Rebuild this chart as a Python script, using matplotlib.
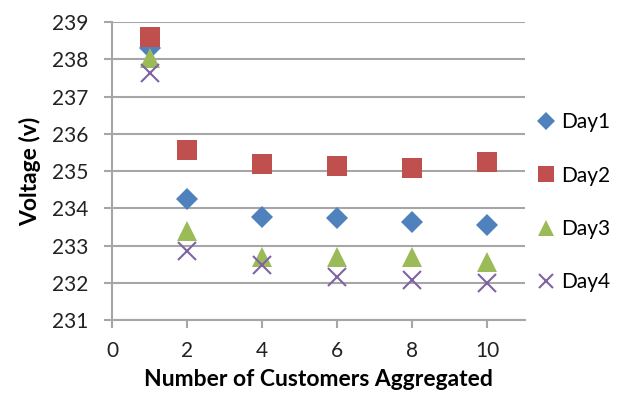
import matplotlib
matplotlib.use("Agg")
import matplotlib.pyplot as plt

customers = [1, 2, 4, 6, 8, 10]
day1 = [238.30, 234.25, 233.76, 233.73, 233.62, 233.55]
day2 = [238.61, 235.57, 235.18, 235.15, 235.08, 235.25]
day3 = [238.03, 233.40, 232.70, 232.68, 232.68, 232.55]
day4 = [237.65, 232.85, 232.48, 232.15, 232.07, 232.00]
series = [("Day1", day1), ("Day2", day2), ("Day3", day3), ("Day4", day4)]
y_ticks = [231, 232, 233, 234, 235, 236, 237, 238, 239]
x_ticks = [0, 2, 4, 6, 8, 10]

styles = {
    "Day1": dict(marker="D", color="#4F81BD", ms=11),
    "Day2": dict(marker="s", color="#C0504D", ms=14),
    "Day3": dict(marker="^", color="#9BBB59", ms=14),
    "Day4": dict(marker="x", color="#8064A2", ms=13, mew=1.5),
}

plt.rcParams['font.family'] = ['Lato', 'DejaVu Sans']
fig = plt.figure(figsize=(6.29, 4.03), dpi=100)
ax = fig.add_axes([0.1785, 0.206, 0.656, 0.7387])

for name, vals in series:
    st = styles[name]
    ax.plot(customers, vals, linestyle="none", marker=st["marker"], color=st["color"],
            markersize=st["ms"], markeredgewidth=st.get("mew", 0), label=name)

ax.set_xlim(0, 11)
ax.set_ylim(231, 239)
ax.set_xticks(x_ticks)
ax.set_yticks(y_ticks)
ax.yaxis.grid(True, color="#A6A6A6", linewidth=1.5)
ax.set_axisbelow(True)
for s in ["top", "right"]:
    ax.spines[s].set_visible(False)
for s in ["left", "bottom"]:
    ax.spines[s].set_color("#A6A6A6")
    ax.spines[s].set_linewidth(1.5)
ax.tick_params(axis="both", colors="#A6A6A6", labelcolor="#222222", labelsize=15,
               length=6, width=1.5)
ax.tick_params(axis="x", pad=9)
ax.tick_params(axis="y", pad=11)

ax.set_xlabel("Number of Customers Aggregated", fontsize=16.5, fontweight="bold", labelpad=6)
ax.set_ylabel("Voltage (v)", fontsize=16.5, fontweight="bold", labelpad=8)

leg = ax.legend(loc="center left", bbox_to_anchor=(0.985, 0.395), frameon=False,
                fontsize=15, labelspacing=1.6, handlelength=0.8, handletextpad=0.35,
                markerscale=0.8)
fig.savefig("out.png", dpi=100)
